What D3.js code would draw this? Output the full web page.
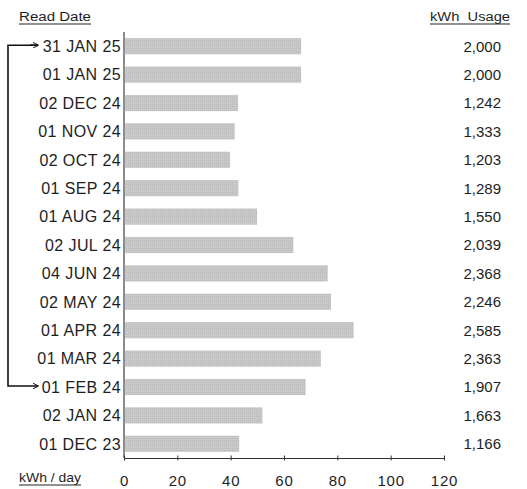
<!DOCTYPE html>
<html>
<head>
<meta charset="utf-8">
<script src="https://cdn.jsdelivr.net/npm/d3@7"></script>
<style>
  body { margin: 0; background: #fff; }
  text { font-family: "Liberation Sans", Arial, sans-serif; fill: #1e1e1e; }
</style>
</head>
<body>
<script>
// read dates, newest first
var dates = ["31 JAN 25", "01 JAN 25", "02 DEC 24", "01 NOV 24", "02 OCT 24",
             "01 SEP 24", "01 AUG 24", "02 JUL 24", "04 JUN 24", "02 MAY 24",
             "01 APR 24", "01 MAR 24", "01 FEB 24", "02 JAN 24", "01 DEC 23"];
// kWh per day (bar lengths)
var perDay = [66.4, 66.4, 42.8, 41.5, 39.8, 42.9, 49.9, 63.5, 76.4, 77.6, 86.1, 73.8, 68.1, 51.9, 43.2];
// kWh usage (right column)
var usage = ["2,000", "2,000", "1,242", "1,333", "1,203", "1,289", "1,550", "2,039",
             "2,368", "2,246", "2,585", "2,363", "1,907", "1,663", "1,166"];
var ticks = [0, 20, 40, 60, 80, 100, 120];

var w = 527, h = 489;

var svg = d3.select("body").append("svg")
    .attr("width", w)
    .attr("height", h);

// fine grey fill like the original
var defs = svg.append("defs");
var pat = defs.append("pattern")
    .attr("id", "dots")
    .attr("width", 2).attr("height", 2)
    .attr("patternUnits", "userSpaceOnUse");
pat.append("rect").attr("width", 2).attr("height", 2).attr("fill", "#c9c9c9");
pat.append("rect").attr("width", 1).attr("height", 1).attr("fill", "#bababa");

var arrow = defs.append("marker")
    .attr("id", "arr")
    .attr("viewBox", "0 0 10 10")
    .attr("refX", 9).attr("refY", 5)
    .attr("markerWidth", 6).attr("markerHeight", 6)
    .attr("markerUnits", "userSpaceOnUse")
    .attr("orient", "auto");
arrow.append("path").attr("d", "M0,0 L10,5 L0,10").attr("fill", "none").attr("stroke", "#111").attr("stroke-width", 1.6);

var x = d3.scaleLinear().domain([0, 120]).range([124, 444]);
var y = d3.scaleBand().domain(dates).range([32, 458]).paddingInner(0.43).paddingOuter(0.215);

// bars
svg.selectAll("rect.bar")
    .data(perDay)
    .enter().append("rect")
    .attr("class", "bar")
    .attr("x", x(0) + 1)
    .attr("y", function(d, i){ return y(dates[i]); })
    .attr("width", function(d){ return x(d) - x(0) - 1; })
    .attr("height", y.bandwidth())
    .attr("fill", "url(#dots)");

// vertical axis line
svg.append("line")
    .attr("x1", x(0)).attr("x2", x(0))
    .attr("y1", 32).attr("y2", 458)
    .attr("stroke", "#666").attr("stroke-width", 1.5);

// bottom axis
var xAxis = d3.axisBottom(x).tickValues(ticks).tickSizeOuter(0).tickSizeInner(3).tickPadding(14);
var gx = svg.append("g")
    .attr("transform", "translate(0,458)")
    .call(xAxis);
gx.select(".domain").attr("stroke", "#333");
gx.selectAll(".tick line").attr("y1", -2.5).attr("y2", 2.5).attr("stroke", "#333");
gx.selectAll(".tick text")
    .style("font-family", "Liberation Sans, Arial, sans-serif")
    .style("font-size", "15px")
    .attr("fill", "#1e1e1e")
    .attr("letter-spacing", "0.8");

// date labels
svg.selectAll("text.date")
    .data(dates)
    .enter().append("text")
    .attr("class", "date")
    .text(function(d){ return d; })
    .attr("x", 121)
    .attr("y", function(d){ return y(d) + y.bandwidth() / 2; })
    .attr("dy", "0.36em")
    .attr("text-anchor", "end")
    .style("font-size", "16px")
    .attr("letter-spacing", "0.4");

// usage values
svg.selectAll("text.usage")
    .data(usage)
    .enter().append("text")
    .attr("class", "usage")
    .text(function(d){ return d; })
    .attr("x", 501)
    .attr("y", function(d, i){ return y(dates[i]) + y.bandwidth() / 2; })
    .attr("dy", "0.36em")
    .attr("text-anchor", "end")
    .style("font-size", "15px");

// headers with underline
function header(txt, x0, base, len, size){
    svg.append("text")
        .text(txt)
        .attr("x", x0).attr("y", base)
        .attr("textLength", len)
        .attr("lengthAdjust", "spacingAndGlyphs")
        .style("white-space", "pre")
        .style("font-size", size + "px");
    svg.append("line")
        .attr("x1", x0).attr("x2", x0 + len)
        .attr("y1", base + 3).attr("y2", base + 3)
        .attr("stroke", "#222").attr("stroke-width", 1);
}
header("Read Date", 19, 21, 72, 12.5);
header("kWh  Usage", 430, 21, 80, 12.5);
header("kWh / day", 19, 482, 62, 13);

// bracket between the two matching read dates
var yTop = y(dates[0]) + y.bandwidth() / 2 - 1;
var yBot = y(dates[12]) + y.bandwidth() / 2 - 1;
svg.append("path")
    .attr("d", "M38," + yTop + " H8 V" + yBot + " H38")
    .attr("fill", "none")
    .attr("stroke", "#111")
    .attr("stroke-width", 1.6)
    .attr("marker-end", "url(#arr)");
// arrowhead on top end
svg.append("line")
    .attr("x1", 30).attr("x2", 38)
    .attr("y1", yTop).attr("y2", yTop)
    .attr("stroke", "#111").attr("stroke-width", 1.6)
    .attr("marker-end", "url(#arr)");
</script>
</body>
</html>
